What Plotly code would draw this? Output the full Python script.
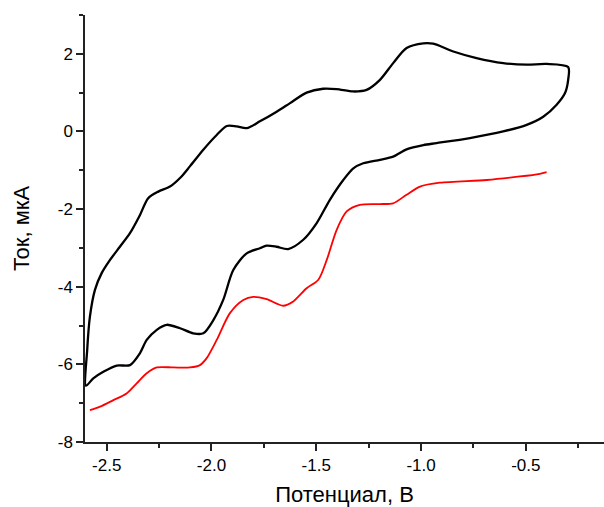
import plotly.graph_objects as go

# Black cyclic voltammogram (traversal order: upper branch left->right, lower branch right->left)
black_x = [-2.599, -2.593, -2.580, -2.556, -2.524, -2.484, -2.437, -2.389, -2.341, -2.302,
           -2.254, -2.198, -2.150, -2.103, -2.039, -1.975, -1.927, -1.880, -1.832, -1.769,
           -1.689, -1.625, -1.546, -1.467, -1.403, -1.323, -1.260, -1.196, -1.133, -1.069,
           -0.989, -0.942, -0.846, -0.735, -0.608, -0.496, -0.401, -0.298,
           -0.298, -0.313, -0.353, -0.417, -0.496, -0.608, -0.767, -0.926, -0.989,
           -1.069, -1.133, -1.196, -1.276, -1.323, -1.371, -1.435, -1.498, -1.562,
           -1.634, -1.689, -1.737, -1.769, -1.832, -1.896, -1.944, -1.991, -2.039,
           -2.087, -2.150, -2.214, -2.261, -2.309, -2.341, -2.389, -2.452, -2.516,
           -2.564, -2.599]
black_y = [-6.55, -5.63, -4.77, -4.08, -3.65, -3.31, -2.97, -2.62, -2.15, -1.72,
           -1.55, -1.42, -1.20, -0.90, -0.47, -0.09, 0.14, 0.13, 0.085, 0.26,
           0.51, 0.73, 1.00, 1.10, 1.09, 1.03, 1.07, 1.33, 1.76, 2.15,
           2.27, 2.26, 2.06, 1.89, 1.76, 1.72, 1.74, 1.66,
           1.33, 0.99, 0.69, 0.38, 0.17, 0.00, -0.17, -0.30, -0.35,
           -0.46, -0.65, -0.73, -0.82, -0.95, -1.25, -1.76, -2.36, -2.79,
           -3.03, -2.97, -2.94, -3.01, -3.14, -3.57, -4.34, -4.86, -5.20,
           -5.20, -5.07, -4.98, -5.11, -5.37, -5.71, -6.02, -6.03, -6.19,
           -6.36, -6.55]

# Red curve
red_x = [-2.580, -2.532, -2.468, -2.405, -2.357, -2.309, -2.261, -2.182, -2.103, -2.055,
         -2.023, -1.975, -1.912, -1.848, -1.801, -1.737, -1.658, -1.610, -1.546, -1.490,
         -1.450, -1.403, -1.355, -1.292, -1.196, -1.133, -1.069, -1.005, -0.910, -0.687,
         -0.528, -0.433, -0.401]
red_y = [-7.18, -7.09, -6.92, -6.75, -6.49, -6.23, -6.08, -6.08, -6.08, -6.02,
         -5.84, -5.37, -4.68, -4.34, -4.26, -4.32, -4.49, -4.38, -4.04, -3.82,
         -3.31, -2.54, -2.06, -1.89, -1.87, -1.85, -1.63, -1.42, -1.32, -1.25,
         -1.16, -1.09, -1.05]

x_tickvals = [-2.5, -2.0, -1.5, -1.0, -0.5]
x_ticktext = ["-2.5", "-2.0", "-1.5", "-1.0", "-0.5"]
x_minorvals = [-2.25, -1.75, -1.25, -0.75, -0.25]
y_tickvals = [-8, -6, -4, -2, 0, 2]
y_ticktext = ["-8", "-6", "-4", "-2", "0", "2"]
y_minorvals = [-7, -5, -3, -1, 1, 3]

fig = go.Figure()
fig.add_trace(go.Scatter(x=black_x, y=black_y, mode="lines",
                         line=dict(color="black", width=2.3, shape="spline", smoothing=0.8),
                         showlegend=False))
fig.add_trace(go.Scatter(x=red_x, y=red_y, mode="lines",
                         line=dict(color="#ff0000", width=1.8, shape="spline", smoothing=0.8),
                         showlegend=False))

font_family = "Liberation Sans, Arial, sans-serif"
axis_common = dict(showgrid=False, zeroline=False, showline=True, linecolor="#222222",
                   linewidth=1.5, ticks="outside", ticklen=7, tickwidth=1.5, automargin=False,
                   tickcolor="#222222", tickfont=dict(family=font_family, size=17, color="black"))

fig.update_layout(
    width=604, height=507,
    margin=dict(l=85, r=0, t=15, b=65),
    plot_bgcolor="white", paper_bgcolor="white",
    xaxis=dict(range=[-2.6035, -0.127], tickmode="array", tickvals=x_tickvals,
               ticktext=x_ticktext,
               minor=dict(tickmode="array", tickvals=x_minorvals, ticks="outside",
                          ticklen=4, tickwidth=1.5, tickcolor="#222222"),
               title=dict(text="Потенциал, В", font=dict(family=font_family, size=22, color="black"),
                          standoff=12),
               **axis_common),
    yaxis=dict(range=[-8, 3], tickmode="array", tickvals=y_tickvals, ticktext=y_ticktext,
               minor=dict(tickmode="array", tickvals=y_minorvals, ticks="outside",
                          ticklen=4, tickwidth=1.5, tickcolor="#222222"),
               title=dict(text="Ток, мкА", font=dict(family=font_family, size=22, color="black"),
                          standoff=22),
               **axis_common),
)

fig.write_html("out.html", config={"displayModeBar": False},
               post_script="document.body.style.margin='0px';document.body.style.overflow='hidden';")
